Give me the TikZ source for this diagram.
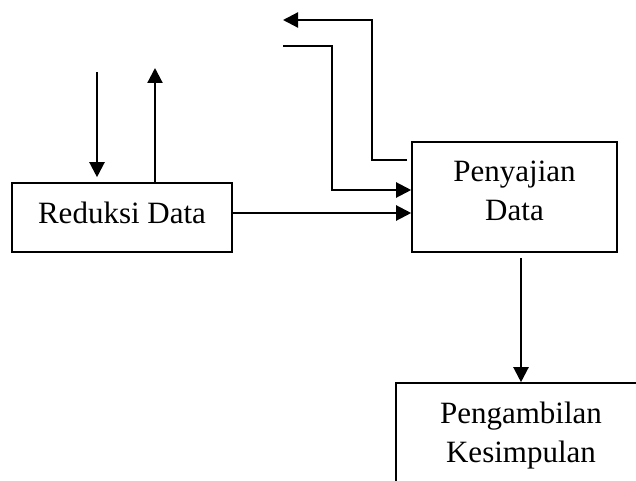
\documentclass[tikz,border=0pt]{standalone}
\usepackage{fontspec}
\setmainfont{Liberation Serif}
\usetikzlibrary{arrows.meta,positioning}
\begin{document}
\begin{tikzpicture}[x=1pt, y=-1pt, font=\fontsize{31}{39}\selectfont, >={Triangle[length=15pt,width=15pt]}]
			\tikzset{kotak/.style={draw, line width=1.6pt, inner sep=0pt, align=center},
				panah/.style={->, line width=2.2pt}}
			\useasboundingbox (0,0) rectangle (636,481);
			
			% Kotak-kotak utama
			\node[kotak, minimum width=220pt, text height=40pt, text depth=29pt] (reduksi) at (122,217.5) {Reduksi Data};
			\node[kotak, minimum width=205pt, text height=78pt, text depth=32pt] (sajian) at (514.5,197) {Penyajian\\Data};
			\node[kotak, minimum width=250pt, text height=79pt, text depth=30pt] (ambil) at (521,437.5) {Pengambilan\\Kesimpulan};
			
			% Ujung bebas panah
			\coordinate (A) at (97,72);
			\coordinate (B) at (155,68);
			\coordinate (C) at ([yshift=4.5pt]reduksi.east);
			\coordinate (M) at (283,46);
			\coordinate (N) at (332,190);
			\coordinate (P) at (372,160);
			\coordinate (Q) at (283,20);
			
			% Panah di atas Reduksi Data
			\draw[panah, shorten >=5pt] (A) -- (A |- reduksi.north);
			\draw[panah] (B |- reduksi.north) -- (B);
			
			% Reduksi Data ke Penyajian Data
			\draw[panah] (C) -- (C -| sajian.west);
			
			% Panah masuk dan keluar Penyajian Data
			\draw[panah] (M) -| (N) -- (N -| sajian.west);
			\draw[panah, shorten <=4pt] (P -| sajian.west) -- (P) |- (Q);
			
			% Penyajian Data ke Pengambilan Kesimpulan
			\draw[panah, shorten <=5pt] (sajian.south -| ambil.north) -- (ambil.north);
	\end{tikzpicture}
\end{document}
